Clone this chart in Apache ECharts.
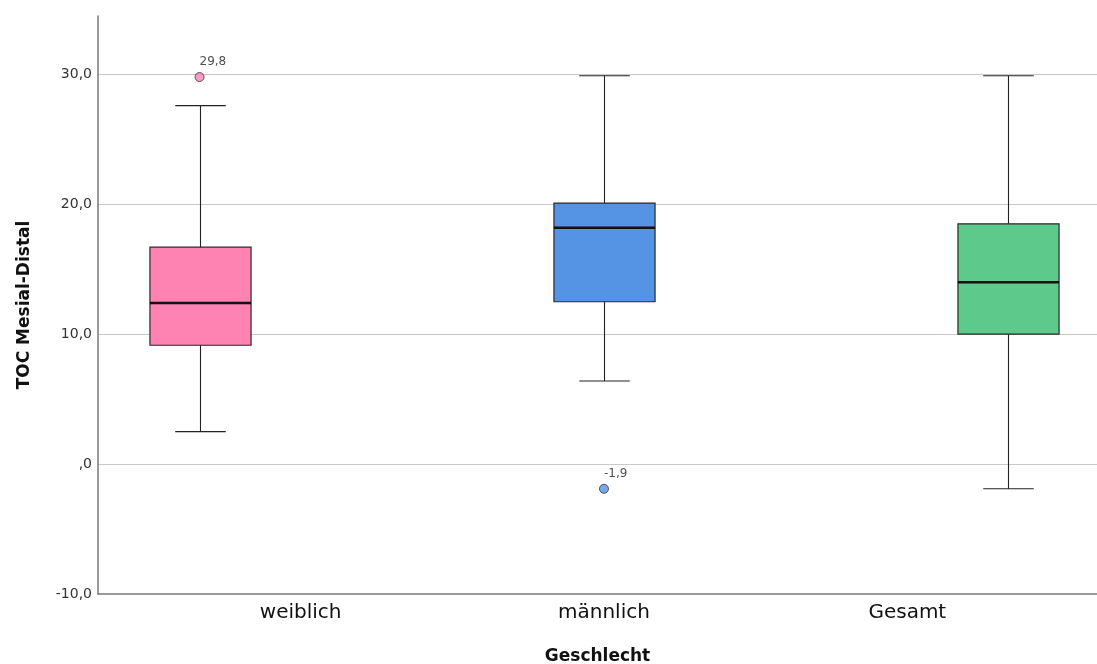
<!DOCTYPE html>
<html>
<head>
<meta charset="utf-8">
<script src="https://cdn.jsdelivr.net/npm/echarts@6/dist/echarts.min.js"></script>
<style>
html,body{margin:0;padding:0;background:#fff;}
#chart{width:1097px;height:664px;}
</style>
</head>
<body>
<div id="chart"></div>
<script>
// ---- data ----
const categories = ['weiblich', 'männlich', 'Gesamt'];
const whiskerLow = [2.5, 6.4, -1.9];
const q1 = [9.15, 12.5, 10.0];
const median = [12.4, 18.2, 14.0];
const q3 = [16.7, 20.1, 18.5];
const whiskerHigh = [27.6, 29.9, 29.9];
const outlierCategory = [0, 1];
const outlierValue = [29.8, -1.9];
const yTicks = [-10, 0, 10, 20, 30];

// ---- styles / layout ----
const boxColors = ['#fe82b2', '#5593e5', '#5dc98a'];
// category label anchor positions on the x scale (as laid out in the original)
const labelAnchors = [0.25, 1, 1.75];

const fmt = v => {
  if (v === 0) return ',0';
  return v.toFixed(1).replace('.', ',');
};

const boxData = categories.map((c, i) => [i, whiskerLow[i], q1[i], median[i], q3[i], whiskerHigh[i]]);
const outlierData = outlierCategory.map((c, i) => ({
  value: [c, outlierValue[i]],
  itemStyle: { color: boxColors[c] }
}));

function renderItem(params, api) {
  const x = api.value(0);
  const pMin = api.coord([x, api.value(1)]);
  const pQ1 = api.coord([x, api.value(2)]);
  const pMed = api.coord([x, api.value(3)]);
  const pQ3 = api.coord([x, api.value(4)]);
  const pMax = api.coord([x, api.value(5)]);
  const boxW = api.size([0.25, 0])[0];
  const capW = boxW / 2;
  const cx = Math.round(pMed[0]) + 0.5;
  const idx = params.dataIndex;
  const lineStyle = { stroke: '#222', lineWidth: 1.1 };
  return {
    type: 'group',
    children: [
      { type: 'line', shape: { x1: cx, y1: pMin[1], x2: cx, y2: pMax[1] }, style: lineStyle },
      { type: 'line', shape: { x1: cx - capW / 2, y1: pMin[1], x2: cx + capW / 2, y2: pMin[1] }, style: lineStyle },
      { type: 'line', shape: { x1: cx - capW / 2, y1: pMax[1], x2: cx + capW / 2, y2: pMax[1] }, style: lineStyle },
      { type: 'rect', shape: { x: cx - boxW / 2, y: pQ3[1], width: boxW, height: pQ1[1] - pQ3[1] },
        style: { fill: boxColors[idx], stroke: '#2a2a2a', lineWidth: 1.2 } },
      { type: 'line', shape: { x1: cx - boxW / 2, y1: pMed[1], x2: cx + boxW / 2, y2: pMed[1] },
        style: { stroke: '#111', lineWidth: 2.5 } }
    ]
  };
}

function nearestLabel(v) {
  let best = 0, bd = Infinity;
  labelAnchors.forEach((a, i) => { const d = Math.abs(a - v); if (d < bd) { bd = d; best = i; } });
  return categories[best];
}

const chart = echarts.init(document.getElementById('chart'), null, { renderer: 'canvas' });
chart.setOption({
  backgroundColor: '#fff',
  animation: false,
  grid: { left: 98, right: 0, top: 16, bottom: 70, containLabel: false, outerBoundsMode: 'none' },
  xAxis: {
    type: 'value',
    min: -0.251,
    max: 2.219,
    name: 'Geschlecht',
    nameLocation: 'middle',
    nameGap: 54,
    nameTextStyle: { fontFamily: 'DejaVu Sans', fontSize: 17, fontWeight: 'bold', color: '#111' },
    axisLine: { show: true, onZero: false, lineStyle: { color: '#7a7a7a', width: 1.5 } },
    axisTick: { show: false },
    splitLine: { show: false },
    axisLabel: {
      customValues: labelAnchors,
      formatter: v => nearestLabel(v),
      fontFamily: 'DejaVu Sans', fontSize: 20, color: '#111', margin: 9
    }
  },
  yAxis: {
    type: 'value',
    min: -10,
    max: 34.5,
    name: 'TOC Mesial-Distal',
    nameLocation: 'middle',
    nameGap: 65,
    nameRotate: 90,
    nameTextStyle: { fontFamily: 'DejaVu Sans', fontSize: 17, fontWeight: 'bold', color: '#111' },
    axisLine: { show: true, onZero: false, lineStyle: { color: '#7a7a7a', width: 1.5 } },
    axisTick: { show: false },
    axisLabel: {
      customValues: yTicks,
      formatter: fmt,
      fontFamily: 'DejaVu Sans', fontSize: 14, color: '#333', margin: 6
    },
    splitLine: { show: false }
  },
  series: [
    {
      type: 'line',
      data: [],
      silent: true,
      z: 0,
      markLine: {
        silent: true,
        symbol: 'none',
        z: 0,
        label: { show: false },
        lineStyle: { color: '#c8c8c8', width: 1.2, type: 'solid' },
        data: yTicks.filter(v => v > -10).map(v => ({ yAxis: v }))
      }
    },
    {
      type: 'custom',
      renderItem: renderItem,
      data: boxData,
      encode: { x: 0, y: [1, 2, 3, 4, 5] },
      z: 2
    },
    {
      type: 'scatter',
      data: outlierData,
      symbol: 'circle',
      symbolSize: 9,
      itemStyle: { borderColor: '#333', borderWidth: 1 },
      label: {
        show: true,
        position: [5, -16],
        formatter: p => p.value[1].toFixed(1).replace('.', ','),
        fontFamily: 'DejaVu Sans', fontSize: 12, color: '#222'
      },
      z: 3
    }
  ]
});
</script>
</body>
</html>
